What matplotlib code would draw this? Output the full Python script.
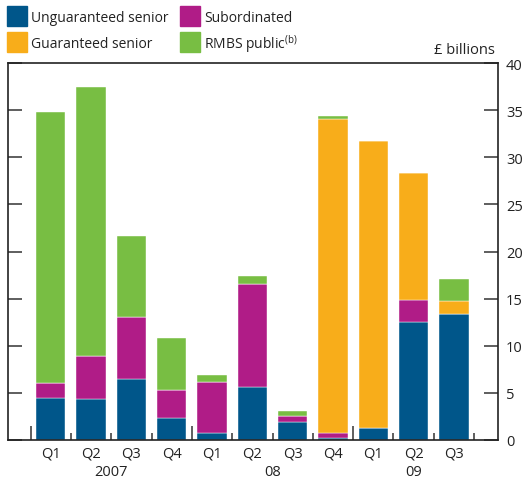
import numpy
from matplotlib import pyplot
from matplotlib.patches import Rectangle
from matplotlib.transforms import blended_transform_factory

pyplot.rcParams['font.family'] = ['Open Sans', 'DejaVu Sans']
pyplot.rcParams['mathtext.default'] = 'regular'

quarters = ['Q1', 'Q2', 'Q3', 'Q4', 'Q1', 'Q2', 'Q3', 'Q4', 'Q1', 'Q2', 'Q3']
years = ['2007', '08', '09']
year_pos = [1.5, 5.5, 9.0]

unguaranteed = [4.5, 4.3, 6.5, 2.3, 0.7, 5.6, 1.9, 0.25, 1.25, 12.5, 13.4]
subordinated = [1.5, 4.6, 6.6, 3.0, 5.5, 11.0, 0.6, 0.45, 0.0, 2.4, 0.0]
guaranteed = [0.0, 0.0, 0.0, 0.0, 0.0, 0.0, 0.0, 33.4, 30.45, 13.4, 1.4]
rmbs = [28.8, 28.6, 8.5, 5.5, 0.7, 0.8, 0.6, 0.3, 0.0, 0.0, 2.3]

c_blue = '#00568a'
c_mag = '#b01c87'
c_orange = '#f8ad1a'
c_green = '#78be43'

W, H = 525, 481
x = numpy.arange(len(quarters))
w = 0.73

fig = pyplot.figure(figsize=(5.25, 4.81), dpi=100)
ax = fig.add_axes([8 / W, 40 / H, 489.5 / W, 377 / H])

bottom = numpy.zeros(len(x))
for vals, col in [(unguaranteed, c_blue), (subordinated, c_mag),
                  (guaranteed, c_orange), (rmbs, c_green)]:
    vals = numpy.array(vals)
    ax.bar(x, vals, w, bottom=bottom, color=col, edgecolor='white',
           linewidth=0.3)
    bottom = bottom + vals

ax.set_xlim(-1.06, 11.08)
ax.set_ylim(0, 40)
ax.set_yticks(numpy.arange(0, 41, 5))
ax.tick_params(axis='y', which='both', left=True, right=True,
               labelleft=False, labelright=True, direction='in',
               length=10, width=1.1, color='#333333', labelsize=10.5,
               labelcolor='#222222', pad=6)

# x ticks between bars, longer at the year breaks
ax.set_xticks([-0.5, 3.5, 7.5])
ax.set_xticks([0.5, 1.5, 2.5, 4.5, 5.5, 6.5, 8.5, 9.5, 10.5], minor=True)
ax.set_xticklabels([])
ax.tick_params(axis='x', which='major', direction='in', length=10,
               width=1.1, color='#333333', top=False)
ax.tick_params(axis='x', which='minor', direction='in', length=5,
               width=1.1, color='#333333', top=False)

for s in ax.spines.values():
    s.set_linewidth(1.2)
    s.set_color('#222222')

trans = blended_transform_factory(ax.transData, ax.transAxes)
for i, q in enumerate(quarters):
    ax.text(i, -13 / 377, q, transform=trans, ha='center', va='center',
            fontsize=10.5, color='#222222')
for p, yr in zip(year_pos, years):
    ax.text(p, -32 / 377, yr, transform=trans, ha='center', va='center',
            fontsize=10.5, color='#222222')

fig.text(495 / W, 1 - 50 / H, '£ billions', ha='right', va='center',
         fontsize=10.5, color='#222222')

# legend, two columns
legend_items = [('Unguaranteed senior', c_blue, 7, 7),
                ('Guaranteed senior', c_orange, 7, 33),
                ('Subordinated', c_mag, 180, 7),
                ('RMBS public$^{(b)}$', c_green, 180, 33)]
for label, col, lx, ly in legend_items:
    fig.patches.append(Rectangle((lx / W, 1 - (ly + 20) / H), 20 / W, 20 / H,
                                 transform=fig.transFigure, color=col))
    fig.text((lx + 24) / W, 1 - (ly + 11) / H, label, ha='left',
             va='center', fontsize=10, color='#222222')

pyplot.savefig('out.png', dpi=100)
